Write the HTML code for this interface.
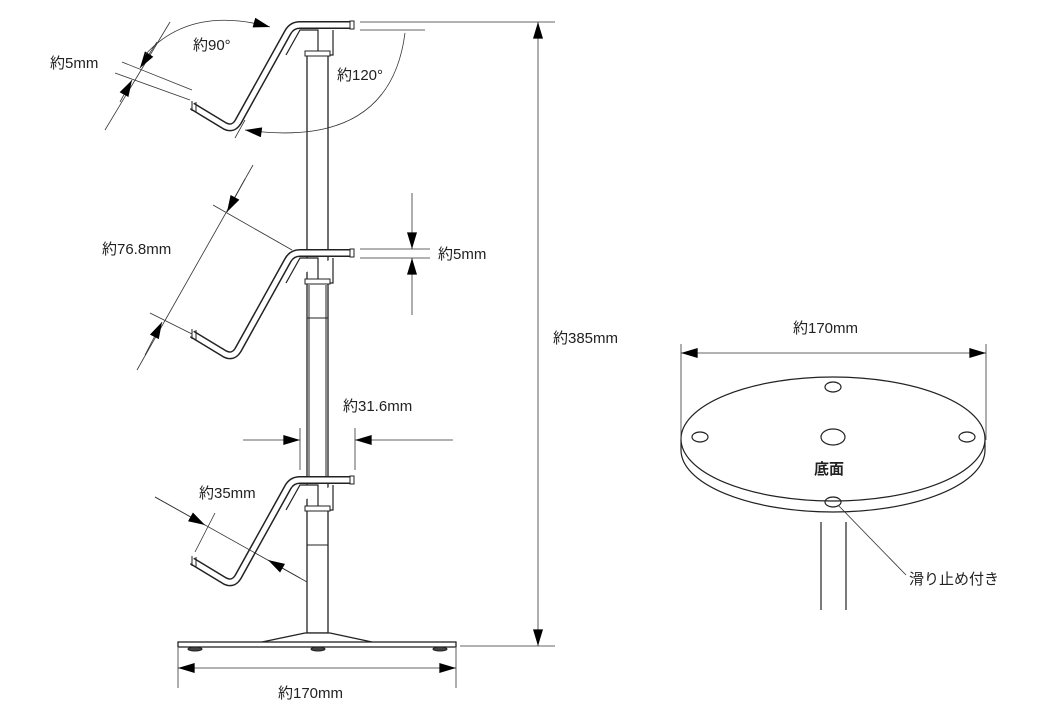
<!DOCTYPE html>
<html><head><meta charset="utf-8"><style>
body{margin:0;background:#fff}
svg{display:block}
text{font-family:"Liberation Sans","Noto Sans CJK JP",sans-serif;font-size:15px;fill:#222}
</style></head><body>
<svg width="1039" height="711" viewBox="0 0 1039 711" xmlns="http://www.w3.org/2000/svg">
<defs>
<marker id="a" viewBox="0 0 10 6" refX="10" refY="3" markerWidth="18" markerHeight="10" markerUnits="userSpaceOnUse" orient="auto"><path d="M0,0L10,3L0,6z" fill="#000"/></marker>
<marker id="b" viewBox="0 0 10 6" refX="0" refY="3" markerWidth="18" markerHeight="10" markerUnits="userSpaceOnUse" orient="auto"><path d="M10,0L0,3L10,6z" fill="#000"/></marker>
</defs>
<g fill="none" stroke="#222" stroke-width="1">
<rect x="307" y="55" width="21" height="578" fill="#fff" stroke-width="1.3"/>
<line x1="309" y1="285" x2="309" y2="480"/><line x1="326" y1="285" x2="326" y2="480"/>
<line x1="307" y1="318" x2="328" y2="318"/><line x1="307" y1="545" x2="328" y2="545"/>
<path d="M262,642 L305,633 L330,633 L372,642" fill="#fff" stroke-width="1.3"/>
<rect x="178" y="642" width="278" height="5" fill="#fff" stroke-width="1.3"/>
<ellipse cx="195" cy="649" rx="7" ry="2" fill="#444"/><ellipse cx="318" cy="649" rx="7" ry="2" fill="#444"/><ellipse cx="440" cy="649" rx="7" ry="2" fill="#444"/>
</g>
<g id="br" fill="none">
<path d="M286,55 L300,30 L318,30 L318,55 L333,55 L333,30" fill="#fff" stroke="#222" stroke-width="1.2"/>
<rect x="305" y="51" width="25" height="5" fill="#fff" stroke="#222"/>
<path d="M352,25 L300,25 Q292,25 288,32 L238,122 Q233,130 225,126 L192,106" stroke="#222" stroke-width="8" stroke-linejoin="round"/>
<path d="M352,25 L300,25 Q292,25 288,32 L238,122 Q233,130 225,126 L192,106" stroke="#fff" stroke-width="5" stroke-linejoin="round"/>
<rect x="350" y="21" width="4" height="8" fill="#fff" stroke="#222"/>
<path d="M192,101 L192,111 M196,102 L196,112" stroke="#222"/>
</g>
<use href="#br" transform="translate(0,228)"/>
<use href="#br" transform="translate(0,455)"/>
<g fill="none" stroke="#333" stroke-width="0.8">
<line x1="360" y1="22" x2="555" y2="22"/><line x1="460" y1="646" x2="555" y2="646"/>
<line x1="538" y1="22" x2="538" y2="646" marker-start="url(#b)" marker-end="url(#a)"/>
<line x1="178" y1="648" x2="178" y2="688"/><line x1="456" y1="648" x2="456" y2="688"/>
<line x1="178" y1="668" x2="456" y2="668" marker-start="url(#b)" marker-end="url(#a)"/>
<line x1="300" y1="428" x2="300" y2="470"/><line x1="355" y1="428" x2="355" y2="470"/>
<line x1="243" y1="440" x2="300" y2="440" marker-end="url(#a)"/>
<line x1="453" y1="440" x2="355" y2="440" marker-end="url(#a)"/>
<line x1="360" y1="249" x2="430" y2="249"/><line x1="360" y1="258" x2="430" y2="258"/>
<line x1="412" y1="193" x2="412" y2="249" marker-end="url(#a)"/>
<line x1="412" y1="315" x2="412" y2="258" marker-end="url(#a)"/>
<line x1="213" y1="205" x2="292" y2="250"/><line x1="150" y1="313" x2="192" y2="334"/>
<line x1="253" y1="165" x2="137" y2="370"/>
<line x1="245" y1="179" x2="227" y2="212" marker-end="url(#a)"/>
<line x1="145" y1="355" x2="162" y2="322" marker-end="url(#a)"/>
<line x1="155" y1="497" x2="307" y2="582"/>
<line x1="155" y1="497" x2="205" y2="525" marker-end="url(#a)"/>
<line x1="300" y1="578" x2="268" y2="560" marker-end="url(#a)"/>
<line x1="215" y1="513" x2="195" y2="552"/>
<line x1="115" y1="73" x2="190" y2="100"/><line x1="122" y1="62" x2="192" y2="90"/>
<line x1="170" y1="22" x2="105" y2="130"/>
<line x1="157" y1="42" x2="140" y2="68" marker-end="url(#a)"/>
<line x1="120" y1="102" x2="132" y2="80" marker-end="url(#a)"/>
<line x1="245" y1="120" x2="235" y2="138"/>
<path d="M145,55 Q190,5 270,27" marker-end="url(#a)"/>
<path d="M405,33 Q390,150 245,130" marker-end="url(#a)"/>
<line x1="360" y1="30" x2="425" y2="30"/>
</g>
<g fill="none" stroke="#222" stroke-width="1.2">
<path d="M681,440 L681,450 A152,62 0 0 0 985,450 L985,440" fill="#fff"/>
<ellipse cx="833" cy="439" rx="152" ry="62" fill="#fff"/>
<ellipse cx="833" cy="437" rx="12" ry="8"/>
<ellipse cx="700" cy="437" rx="8" ry="5"/><ellipse cx="967" cy="437" rx="8" ry="5"/>
<ellipse cx="833" cy="387" rx="8" ry="5"/><ellipse cx="833" cy="502" rx="8" ry="5"/>
<line x1="821" y1="522" x2="821" y2="610"/><line x1="846" y1="522" x2="846" y2="610"/>
</g>
<g fill="none" stroke="#333" stroke-width="0.8">
<line x1="681" y1="344" x2="681" y2="440"/><line x1="986" y1="344" x2="986" y2="440"/>
<line x1="681" y1="353" x2="986" y2="353" marker-start="url(#b)" marker-end="url(#a)"/>
<line x1="838" y1="505" x2="906" y2="575"/>
</g>
<text x="50" y="68">約5mm</text>
<text x="193" y="50">約90°</text>
<text x="337" y="80">約120°</text>
<text x="102" y="254">約76.8mm</text>
<text x="438" y="259">約5mm</text>
<text x="553" y="343">約385mm</text>
<text x="343" y="411">約31.6mm</text>
<text x="199" y="498">約35mm</text>
<text x="278" y="698">約170mm</text>
<text x="793" y="333">約170mm</text>
<text x="814" y="474" style="font-weight:bold">底面</text>
<text x="909" y="584">滑り止め付き</text>
</svg>
</body></html>
